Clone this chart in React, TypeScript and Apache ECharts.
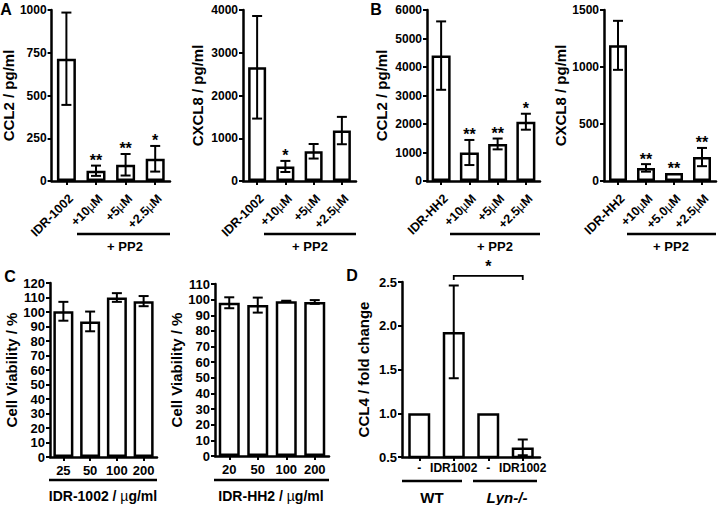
import React, { useEffect, useRef } from "react";
import * as echarts from "echarts";

// ---------- data ----------
const aCats1002 = ["IDR-1002", "+10µM", "+5µM", "+2.5µM"];
const aCcl2Mean = [715, 60, 95, 130];
const aCcl2Err = [270, 30, 63, 75];
const aCcl2Sig = ["", "**", "**", "*"];
const aCxcl8Mean = [2660, 340, 695, 1180];
const aCxcl8Err = [1200, 130, 170, 320];
const aCxcl8Sig = ["", "*", "", ""];

const bCatsCcl2 = ["IDR-HH2", "+10µM", "+5µM", "+2.5µM"];
const bCcl2Mean = [4400, 1000, 1300, 2080];
const bCcl2Err = [1200, 440, 190, 280];
const bCcl2Sig = ["", "**", "**", "*"];
const bCatsCxcl8 = ["IDR-HH2", "+10µM", "+5.0µM", "+2.5µM"];
const bCxcl8Mean = [1190, 115, 70, 210];
const bCxcl8Err = [215, 33, 0, 80];
const bCxcl8Sig = ["", "**", "**", "**"];

const cDoses1002 = ["25", "50", "100", "200"];
const cViab1002 = [100.5, 93.5, 110, 107.5];
const cViab1002Err = [6.5, 6.8, 3, 3.5];
const cDosesHH2 = ["20", "50", "100", "200"];
const cViabHH2 = [98, 96.5, 99, 98.5];
const cViabHH2Err = [3.5, 4.8, 0.3, 1.2];

const dCats = ["-", "IDR1002", "-", "IDR1002"];
const dGroups = ["WT", "Lyn-/-"];
const dFold = [1.0, 1.93, 1.0, 0.61];
const dFoldErr = [0, 0.53, 0, 0.09];
const dBracket = [[1, 3, 2.57]];
const dBracketLabel = "*";

const yNames = ["CCL2 / pg/ml", "CXCL8 / pg/ml", "CCL2 / pg/ml", "CXCL8 / pg/ml", "Cell Viability / %", "Cell Viability / %", "CCL4 / fold change"];
const yMax = [1000, 4000, 6000, 1500, 120, 110, 2.5];
const yMin = [0, 0, 0, 0, 0, 0, 0.5];
const yStep = [250, 1000, 1000, 500, 10, 10, 0.5];
const pp2Label = "+ PP2";
const cXNames = ["IDR-1002 / {m|µ}g/ml", "IDR-HH2 / {m|µ}g/ml"];

// ---------- styles ----------
const FONT = "'Liberation Sans', Arial, Helvetica, sans-serif";
const BLACK = "#000";

const grids = [
  { left: 50, top: 10, width: 120, height: 171 },
  { left: 243, top: 10, width: 113, height: 171 },
  { left: 427, top: 10, width: 113, height: 171 },
  { left: 604, top: 10, width: 112, height: 171 },
  { left: 50, top: 283, width: 107, height: 174 },
  { left: 215, top: 284, width: 114, height: 172 },
  { left: 402, top: 282, width: 138, height: 175 },
];
const nameGaps = [33, 38, 38, 33, 27, 27, 31];
const yFont = [12, 12, 12, 12, 13, 13, 13];
const barWidths = [19, 18, 19, 18, 20, 21, 22];

const muFmt = (v: string) => v.replace("µ", "{m|µ}");

function makeYAxis(i: number) {
  return {
    type: "value",
    gridIndex: i,
    min: yMin[i],
    max: yMax[i],
    interval: yStep[i],
    name: yNames[i],
    nameLocation: "middle",
    nameRotate: 90,
    nameGap: nameGaps[i],
    nameTextStyle: { fontFamily: FONT, fontWeight: "bold", fontSize: 15, color: BLACK },
    axisLine: { show: true, lineStyle: { color: BLACK, width: 2.5 } },
    axisTick: { show: true, length: 4, lineStyle: { color: BLACK, width: 2 } },
    axisLabel: {
      fontFamily: FONT,
      fontWeight: "bold",
      fontSize: yFont[i],
      color: BLACK,
      margin: 5,
      formatter: i === 6 ? (v: number) => v.toFixed(1) : (v: number) => String(v),
    },
    splitLine: { show: false },
  };
}

function makeXAxis(i: number, cats: string[], fs: number, rotate: number, margin: number) {
  const label: any = {
    interval: 0,
    rotate,
    margin,
    fontFamily: FONT,
    fontWeight: "bold",
    fontSize: fs,
    color: BLACK,
    formatter: muFmt,
    rich: { m: { fontFamily: FONT, fontWeight: "normal", fontSize: fs, color: BLACK } },
  };
  if (rotate) {
    label.align = "right";
    label.verticalAlign = "top";
  }
  return {
    type: "category",
    gridIndex: i,
    data: cats,
    axisLine: { show: true, lineStyle: { color: BLACK, width: 2.5 } },
    axisTick: { show: true, alignWithLabel: true, length: 4, lineStyle: { color: BLACK, width: 2 } },
    axisLabel: label,
    splitLine: { show: false },
  };
}

function barSeries(i: number, values: number[]) {
  return {
    type: "bar",
    xAxisIndex: i,
    yAxisIndex: i,
    data: values,
    barWidth: barWidths[i],
    itemStyle: { color: "#fff", borderColor: BLACK, borderWidth: 2.5 },
    z: 2,
  };
}

function errSeries(i: number, means: number[], errs: number[], sigs: string[]) {
  return {
    type: "custom",
    xAxisIndex: i,
    yAxisIndex: i,
    z: 3,
    data: means.map((m, k) => [k, m, errs[k]]),
    encode: { x: 0, y: 1 },
    renderItem: (params: any, api: any) => {
      const idx = api.value(0);
      const m = api.value(1);
      const e = api.value(2);
      const top = api.coord([idx, m + e]);
      const bot = api.coord([idx, m - e]);
      const cap = 5;
      const st = { stroke: BLACK, lineWidth: 2 };
      const children: any[] = [];
      if (e > 0) {
        children.push({ type: "line", shape: { x1: top[0], y1: top[1], x2: bot[0], y2: bot[1] }, style: st });
        children.push({ type: "line", shape: { x1: top[0] - cap, y1: top[1], x2: top[0] + cap, y2: top[1] }, style: st });
        children.push({ type: "line", shape: { x1: bot[0] - cap, y1: bot[1], x2: bot[0] + cap, y2: bot[1] }, style: st });
      }
      const sig = sigs[params.dataIndex];
      if (sig) {
        children.push({
          type: "text",
          x: top[0],
          y: top[1] + 3,
          style: { text: sig, fontFamily: FONT, fontWeight: "bold", fontSize: 16, fill: BLACK, align: "center", verticalAlign: "bottom" },
        });
      }
      return { type: "group", children };
    },
  };
}

function bracketSeries(i: number) {
  return {
    type: "custom",
    xAxisIndex: i,
    yAxisIndex: i,
    z: 3,
    data: dBracket,
    encode: { x: [0, 1], y: 2 },
    renderItem: (_params: any, api: any) => {
      const a = api.coord([api.value(0), api.value(2)]);
      const b = api.coord([api.value(1), api.value(2)]);
      const st = { stroke: BLACK, lineWidth: 1.8, fill: null };
      return {
        type: "group",
        children: [
          { type: "polyline", shape: { points: [[a[0], a[1] + 4], [a[0], a[1]], [b[0], b[1]], [b[0], b[1] + 4]] }, style: st },
          {
            type: "text",
            x: (a[0] + b[0]) / 2,
            y: a[1] - 1,
            style: { text: dBracketLabel, fontFamily: FONT, fontWeight: "bold", fontSize: 16, fill: BLACK, align: "center", verticalAlign: "bottom" },
          },
        ],
      };
    },
  };
}

const txt = (x: number, y: number, text: string, fs: number, extra: any = {}) => ({
  type: "text",
  x,
  y,
  style: { text, fontFamily: FONT, fontWeight: "bold", fontSize: fs, fill: BLACK, align: "center", verticalAlign: "middle", ...extra },
});
const ln = (x1: number, y1: number, x2: number, y2: number) => ({
  type: "line",
  shape: { x1, y1, x2, y2 },
  style: { stroke: BLACK, lineWidth: 2.5 },
});

export default function App() {
  const ref = useRef<HTMLDivElement>(null);
  useEffect(() => {
    if (!ref.current) return;
    const chart = echarts.init(ref.current, undefined, { renderer: "svg" });
    const muRich = { m: { fontFamily: FONT, fontWeight: "normal", fontSize: 14, fill: BLACK } };
    const option: any = {
      animation: false,
      backgroundColor: "#fff",
      grid: grids.map((g) => ({ ...g, containLabel: false })),
      xAxis: [
        makeXAxis(0, aCats1002, 12.5, 45, 11),
        makeXAxis(1, aCats1002, 12.5, 45, 11),
        makeXAxis(2, bCatsCcl2, 12.5, 45, 11),
        makeXAxis(3, bCatsCxcl8, 12.5, 45, 11),
        makeXAxis(4, cDoses1002, 13, 0, 7),
        makeXAxis(5, cDosesHH2, 13, 0, 7),
        makeXAxis(6, dCats, 12, 0, 5),
      ],
      yAxis: [0, 1, 2, 3, 4, 5, 6].map(makeYAxis),
      series: [
        barSeries(0, aCcl2Mean),
        errSeries(0, aCcl2Mean, aCcl2Err, aCcl2Sig),
        barSeries(1, aCxcl8Mean),
        errSeries(1, aCxcl8Mean, aCxcl8Err, aCxcl8Sig),
        barSeries(2, bCcl2Mean),
        errSeries(2, bCcl2Mean, bCcl2Err, bCcl2Sig),
        barSeries(3, bCxcl8Mean),
        errSeries(3, bCxcl8Mean, bCxcl8Err, bCxcl8Sig),
        barSeries(4, cViab1002),
        errSeries(4, cViab1002, cViab1002Err, ["", "", "", ""]),
        barSeries(5, cViabHH2),
        errSeries(5, cViabHH2, cViabHH2Err, ["", "", "", ""]),
        barSeries(6, dFold),
        errSeries(6, dFold, dFoldErr, ["", "", "", ""]),
        bracketSeries(6),
      ],
      graphic: [
        txt(6, 9, "A", 16),
        txt(376, 9, "B", 16),
        txt(10, 276, "C", 16),
        txt(352, 275, "D", 16),
        ln(77, 234, 170, 234),
        ln(264, 234, 356, 234),
        ln(450, 234, 540, 234),
        ln(627, 234, 716, 234),
        txt(125, 246, pp2Label, 13),
        txt(310, 246, pp2Label, 13),
        txt(495, 246, pp2Label, 13),
        txt(671, 246, pp2Label, 13),
        ln(49, 480, 157, 480),
        ln(214, 480, 329, 480),
        txt(103, 496, cXNames[0], 14, { rich: muRich }),
        txt(271, 496, cXNames[1], 14, { rich: muRich }),
        ln(402, 481, 462, 481),
        ln(473, 481, 537, 481),
        txt(432, 497, dGroups[0], 15),
        txt(507, 497, dGroups[1], 15, { fontStyle: "italic" }),
      ],
    };
    chart.setOption(option);
    return () => chart.dispose();
  }, []);
  return <div ref={ref} style={{ position: "fixed", left: 0, top: 0, width: 721, height: 505 }} />;
}
